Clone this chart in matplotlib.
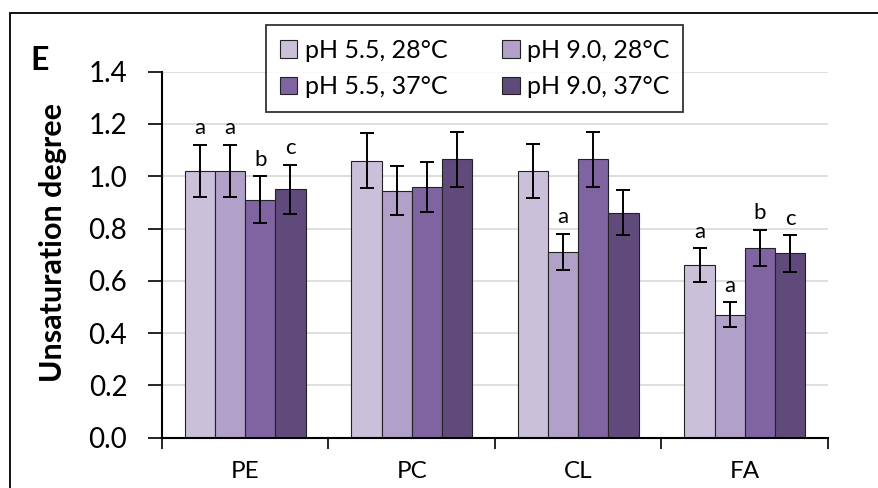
import numpy as np
import matplotlib.pyplot as plt
from matplotlib.patches import Rectangle

plt.rcParams['font.family'] = ['Lato', 'DejaVu Sans']

lipids = ["PE", "PC", "CL", "FA"]
conditions = ["pH 5.5, 28°C", "pH 9.0, 28°C", "pH 5.5, 37°C", "pH 9.0, 37°C"]
colors = ["#CBC0DA", "#B1A0C7", "#8064A2", "#604A7B"]

# rows = conditions, columns = lipid classes
means = [
    [1.02, 1.06, 1.02, 0.66],
    [1.02, 0.945, 0.71, 0.47],
    [0.91, 0.96, 1.065, 0.725],
    [0.95, 1.065, 0.86, 0.705],
]
errs = [
    [0.10, 0.106, 0.103, 0.065],
    [0.10, 0.095, 0.07, 0.048],
    [0.09, 0.096, 0.105, 0.07],
    [0.094, 0.105, 0.086, 0.07],
]
# significance letters (empty = none)
letters = [
    ["a", "", "", "a"],
    ["a", "", "a", "a"],
    ["b", "", "", "b"],
    ["c", "", "", "c"],
]

fig = plt.figure(figsize=(8.79, 4.88), dpi=100)
ax = fig.add_axes([162/879, 1 - 437.7/488, (828 - 162)/879, (437.7 - 71.7)/488])

x = np.arange(len(lipids))
w = 0.181
for i in range(len(conditions)):
    pos = x + (i - 1.5) * w
    ax.bar(pos, means[i], w, color=colors[i], edgecolor="#222222", lw=0.8,
           label=conditions[i], zorder=2)
    ax.errorbar(pos, means[i], yerr=errs[i], fmt="none", ecolor="black",
                elinewidth=1.4, capsize=5, capthick=1.4, zorder=3)
    for j in range(len(lipids)):
        if letters[i][j]:
            ax.text(pos[j], means[i][j] + errs[i][j] + 0.025, letters[i][j],
                    ha="center", va="bottom", fontsize=16)

ax.set_xlim(-0.5, 3.5)
ax.set_ylim(0, 1.4)
ax.set_yticks(np.arange(0, 1.41, 0.2))
ax.set_yticklabels([f"{v:.1f}" for v in np.arange(0, 1.41, 0.2)], fontsize=20)
ax.yaxis.grid(True, color="#d9d9d9", lw=1.2, zorder=0)
ax.set_axisbelow(True)
ax.tick_params(axis="y", length=10, width=1.2, direction="out", pad=15)

ax.set_xticks(np.arange(-0.5, 3.6, 1))
ax.set_xticklabels([])
ax.tick_params(axis="x", which="major", length=8, width=1.2)
ax.set_xticks(x, minor=True)
ax.set_xticklabels(lipids, minor=True, fontsize=17.5)
ax.tick_params(axis="x", which="minor", length=0, pad=17)

for s in ["top", "right"]:
    ax.spines[s].set_visible(False)
for s in ["left", "bottom"]:
    ax.spines[s].set_linewidth(1.5)

h, l = ax.get_legend_handles_labels()
order = [0, 2, 1, 3]
leg = ax.legend([h[k] for k in order], [l[k] for k in order], ncol=2,
                loc="upper left", bbox_to_anchor=(0.156, 1.128), fontsize=18,
                frameon=True, fancybox=False, edgecolor="black",
                handlelength=0.7, handleheight=0.7, handletextpad=0.3,
                columnspacing=2.2, borderpad=0.55, labelspacing=0.55,
                borderaxespad=0)
leg.get_frame().set_linewidth(1.3)

fig.text(53/879, 1 - 243/488, "Unsaturation degree", rotation=90,
         ha="center", va="center", fontsize=22, fontweight="bold")
fig.text(40/879, 1 - 60/488, "E", ha="center", va="center",
         fontsize=23, fontweight="bold")

# outer frame of the panel
fig.patches.append(Rectangle((10/879, -0.1), 1.2, 1 - 13/488 + 0.1,
                             transform=fig.transFigure, fill=False,
                             edgecolor="black", lw=1.3))

fig.savefig("out.png", dpi=100)
